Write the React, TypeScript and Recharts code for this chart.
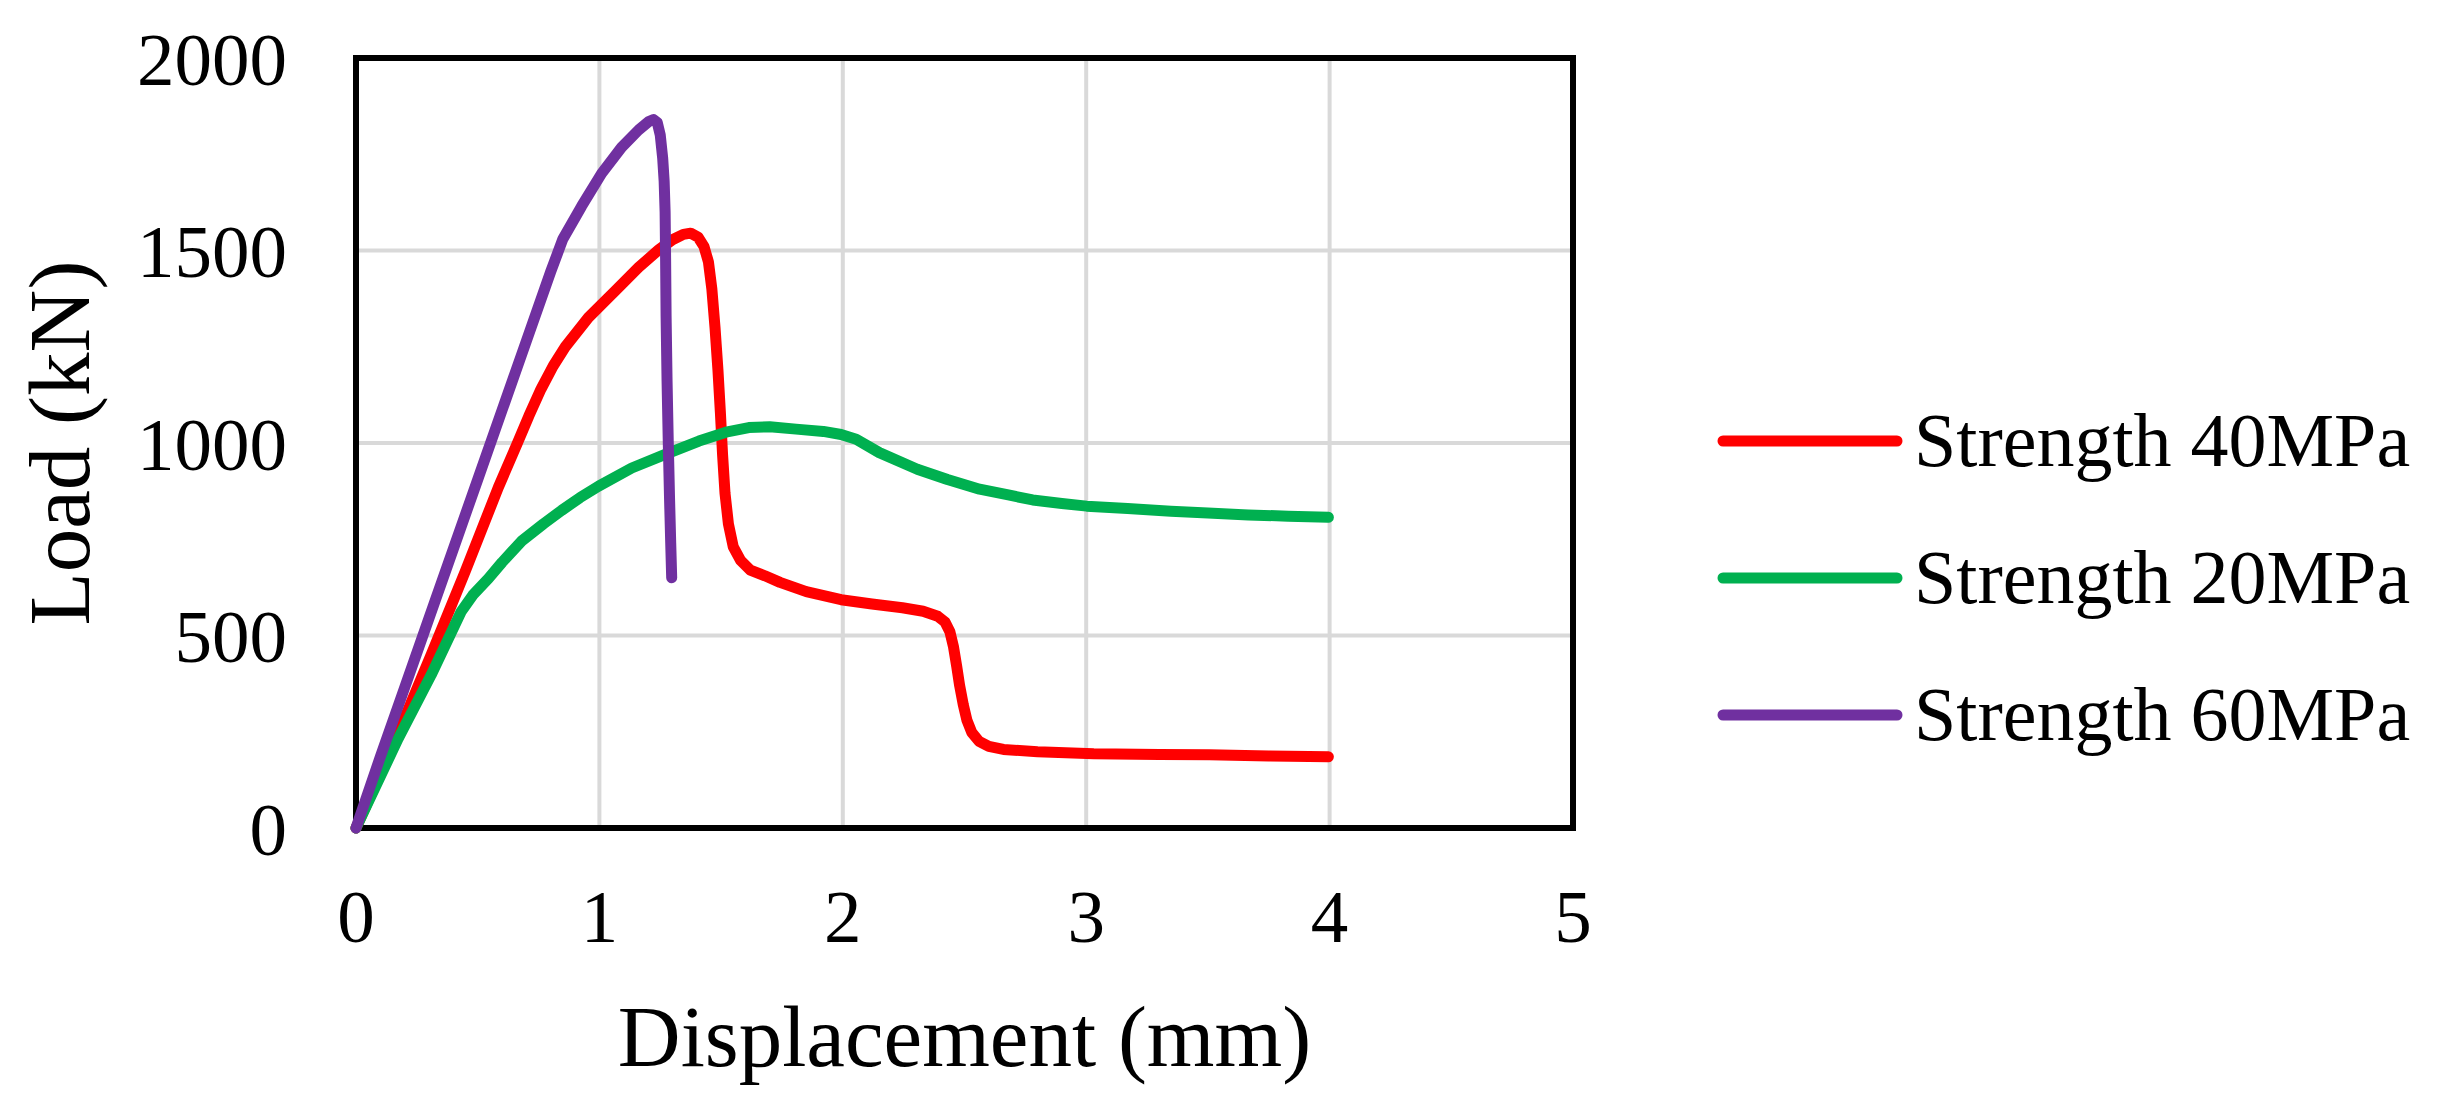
import React from "react";
import {
  CartesianGrid,
  Legend,
  Line,
  LineChart,
  ReferenceArea,
  XAxis,
  YAxis,
} from "recharts";

// Displacement (mm) / load (kN) pairs.
const S40_DISP = [
  0, 0.1, 0.173, 0.309, 0.449, 0.585, 0.66, 0.71, 0.76, 0.81, 0.86, 0.955, 1.066,
  1.161, 1.244, 1.3, 1.345, 1.375, 1.405, 1.43, 1.448, 1.462, 1.475, 1.487,
  1.497, 1.506, 1.516, 1.53, 1.55, 1.58, 1.62, 1.68, 1.742, 1.85, 1.993, 2.12,
  2.245, 2.33, 2.39, 2.42, 2.44, 2.455, 2.468, 2.48, 2.495, 2.51, 2.53, 2.56,
  2.6, 2.66, 2.8, 3.031, 3.3, 3.505, 3.75, 3.995,
];
const S40_LOAD = [
  0, 140, 245, 450, 667, 885, 995, 1070, 1140, 1200, 1250, 1326, 1396, 1456,
  1502, 1528, 1542, 1545, 1535, 1510, 1470, 1400, 1300, 1190, 1080, 970, 870,
  790, 730, 695, 670, 655, 638, 614, 593, 582, 572, 563, 550, 535, 510, 470,
  420, 370, 320, 280, 248, 225, 212, 204, 198, 193, 191, 190, 187, 185,
];

const S20_DISP = [
  0, 0.173, 0.309, 0.432, 0.48, 0.544, 0.6, 0.68, 0.77, 0.845, 0.92, 0.997,
  1.133, 1.273, 1.409, 1.52, 1.614, 1.7, 1.808, 1.92, 1.993, 2.055, 2.15, 2.306,
  2.43, 2.562, 2.68, 2.78, 2.9, 3.002, 3.17, 3.348, 3.5, 3.666, 3.83, 3.995,
];
const S20_LOAD = [
  0, 232, 398, 562, 605, 648, 690, 745, 790, 825, 858, 888, 935, 971, 1005,
  1028, 1040, 1042, 1036, 1030, 1022, 1010, 975, 932, 905, 880, 865, 852, 843,
  836, 830, 823, 818, 813, 810, 807,
];

const S60_DISP = [
  0, 0.1, 0.2, 0.3, 0.4, 0.5, 0.6, 0.7, 0.8, 0.85, 0.927, 1.009, 1.091, 1.161,
  1.203, 1.222, 1.238, 1.25, 1.26, 1.266, 1.27, 1.272, 1.274, 1.278, 1.283,
  1.288, 1.293, 1.297,
];
const S60_LOAD = [
  0, 185, 365, 545, 725, 905, 1085, 1265, 1445, 1530, 1615, 1700, 1768, 1813,
  1835, 1840, 1832, 1800, 1740, 1680, 1600, 1480, 1330, 1160, 1000, 860, 740,
  650,
];

const X_TICKS = [0, 1, 2, 3, 4, 5];
const Y_TICKS = [0, 500, 1000, 1500, 2000];

const toRows = (xs: number[], ys: number[]) =>
  xs.map((x, i) => ({ x, y: ys[i] }));

const SERIES = [
  { name: "Strength 40MPa", color: "#ff0000", data: toRows(S40_DISP, S40_LOAD) },
  { name: "Strength 20MPa", color: "#00b050", data: toRows(S20_DISP, S20_LOAD) },
  { name: "Strength 60MPa", color: "#7030a0", data: toRows(S60_DISP, S60_LOAD) },
];

const FONT = '"Liberation Serif", "Times New Roman", serif';

function LegendBox() {
  return (
    <div style={{ fontFamily: FONT, color: "#000" }}>
      {SERIES.map((s) => (
        <div
          key={s.name}
          style={{ display: "flex", alignItems: "center", height: 137 }}
        >
          <svg width={194} height={20} style={{ display: "block" }}>
            <line
              x1={10}
              y1={10}
              x2={184}
              y2={10}
              stroke={s.color}
              strokeWidth={11}
              strokeLinecap="round"
            />
          </svg>
          <span style={{ fontSize: 76, marginLeft: 7, whiteSpace: "nowrap" }}>
            {s.name}
          </span>
        </div>
      ))}
    </div>
  );
}

export default function App() {
  const tickStyle = { fill: "#000", fontSize: 75, fontFamily: FONT };
  return (
    <div
      style={{
        position: "absolute",
        left: 0,
        top: 0,
        width: 2437,
        height: 1113,
        background: "#fff",
      }}
    >
      <LineChart
        width={2437}
        height={1113}
        margin={{ top: 58, right: 864, bottom: 0, left: 0 }}
      >
        <CartesianGrid stroke="#d9d9d9" strokeWidth={4} />
        <XAxis
          type="number"
          dataKey="x"
          domain={[0, 5]}
          ticks={X_TICKS}
          height={285}
          axisLine={false}
          tickLine={false}
          tickSize={0}
          tickMargin={61}
          tick={tickStyle}
          label={{
            value: "Displacement (mm)",
            position: "insideBottom",
            offset: 47,
            fill: "#000",
            fontSize: 87,
            fontFamily: FONT,
          }}
        />
        <YAxis
          type="number"
          domain={[0, 2000]}
          ticks={Y_TICKS}
          width={356}
          axisLine={false}
          tickLine={false}
          tickSize={0}
          tickMargin={69}
          tick={tickStyle}
          label={{
            value: "Load (kN)",
            angle: -90,
            position: "insideLeft",
            offset: 58,
            fill: "#000",
            fontSize: 87,
            fontFamily: FONT,
            style: { textAnchor: "middle" },
          }}
        />
        {SERIES.map((s) => (
          <Line
            key={s.name}
            name={s.name}
            data={s.data}
            dataKey="y"
            type="linear"
            stroke={s.color}
            strokeWidth={11}
            strokeLinecap="round"
            strokeLinejoin="round"
            dot={false}
            activeDot={false}
            isAnimationActive={false}
          />
        ))}
        <ReferenceArea
          x1={0}
          x2={5}
          y1={0}
          y2={2000}
          fill="none"
          fillOpacity={0}
          stroke="#000"
          strokeWidth={6}
          ifOverflow="visible"
        />
        {/* centre/middle keeps Recharts from reserving room for the legend */}
        <Legend
          layout="horizontal"
          align="center"
          verticalAlign="middle"
          content={() => <LegendBox />}
          wrapperStyle={{ left: 1713, top: 372, width: 720 }}
        />
      </LineChart>
    </div>
  );
}
